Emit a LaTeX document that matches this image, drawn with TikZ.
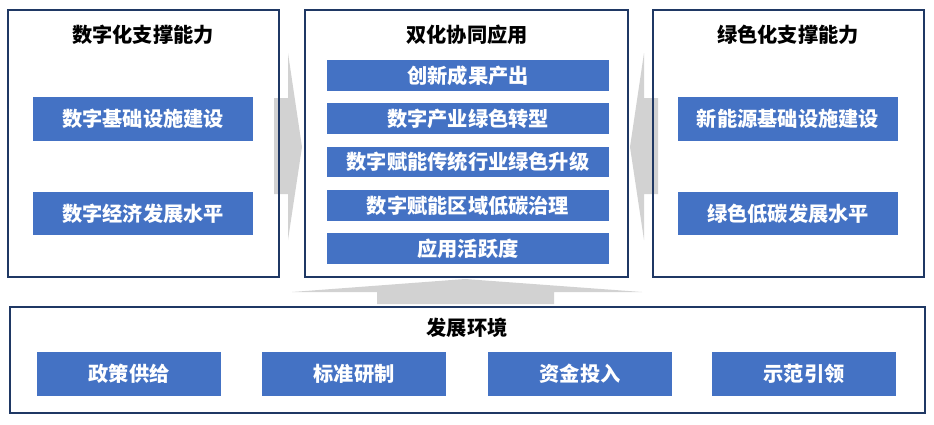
\documentclass[tikz,border=0pt]{standalone}
\usepackage{fontspec}
\setmainfont{Noto Sans CJK SC}
\definecolor{boxblue}{HTML}{4472C4}
\definecolor{framecol}{HTML}{1F3864}
\definecolor{arrowgray}{HTML}{D2D2D2}
\tikzset{
  panel/.style={draw=framecol, line width=1.4bp, anchor=north west, inner sep=0pt, outer sep=0pt},
  item/.style={fill=boxblue, text=white, anchor=north west, inner sep=0pt, outer sep=0pt,
    font=\bfseries\fontsize{20.3}{23}\selectfont},
  ptitle/.style={text=black, font=\bfseries\fontsize{20.3}{23}\selectfont, inner sep=0pt},
  blockarrow/.style={fill=arrowgray, draw=none}
}
\begin{document}
\begin{tikzpicture}[x=1bp, y=-1bp]
\useasboundingbox (0,0) rectangle (934,424);
% block arrows (behind frames)
\fill[blockarrow] (274,98) -- (288,98) -- (288,53) -- (302,147) -- (288,240) -- (288,194) -- (274,194) -- cycle;
\fill[blockarrow] (658,98) -- (644,98) -- (644,53) -- (630,147) -- (644,240) -- (644,194) -- (658,194) -- cycle;
\fill[blockarrow] (377,304) -- (377,292) -- (292,292) -- (465,279) -- (642,292) -- (554,292) -- (554,304) -- cycle;
% panels
\node[panel, minimum width=271bp, minimum height=267bp] (left) at (8,10) {};
\node[panel, minimum width=323bp, minimum height=267bp] (mid) at (305,10) {};
\node[panel, minimum width=271bp, minimum height=267bp] (right) at (653,10) {};
\node[panel, minimum width=915bp, minimum height=106bp] (bottom) at (10,307) {};
% titles
\node[ptitle] (tleft) at (143,35) {数字化支撑能力};
\node[ptitle] (tmid) at (467,35) {双化协同应用};
\node[ptitle] (tright) at (788,35) {绿色化支撑能力};
\node[ptitle] (tbottom) at (467,328) {发展环境};
% left items
\node[item, minimum width=220bp, minimum height=44bp] (l1) at (33,97) {数字基础设施建设};
\node[item, minimum width=220bp, minimum height=43bp] (l2) at (33,192) {数字经济发展水平};
% right items
\node[item, minimum width=220bp, minimum height=44bp] (r1) at (678,97) {新能源基础设施建设};
\node[item, minimum width=220bp, minimum height=43bp] (r2) at (678,192) {绿色低碳发展水平};
% middle items
\node[item, minimum width=282bp, minimum height=31bp] (m1) at (327,60) {创新成果产出};
\node[item, minimum width=282bp, minimum height=31bp] (m2) at (327,103) {数字产业绿色转型};
\node[item, minimum width=282bp, minimum height=30bp] (m3) at (327,147) {数字赋能传统行业绿色升级};
\node[item, minimum width=282bp, minimum height=31bp] (m4) at (327,190) {数字赋能区域低碳治理};
\node[item, minimum width=282bp, minimum height=31bp] (m5) at (327,233) {应用活跃度};
% bottom items
\node[item, minimum width=184bp, minimum height=44bp] (b1) at (37,352) {政策供给};
\node[item, minimum width=184bp, minimum height=44bp] (b2) at (262,352) {标准研制};
\node[item, minimum width=184bp, minimum height=44bp] (b3) at (488,352) {资金投入};
\node[item, minimum width=184bp, minimum height=44bp] (b4) at (712,352) {示范引领};
\end{tikzpicture}
\end{document}
